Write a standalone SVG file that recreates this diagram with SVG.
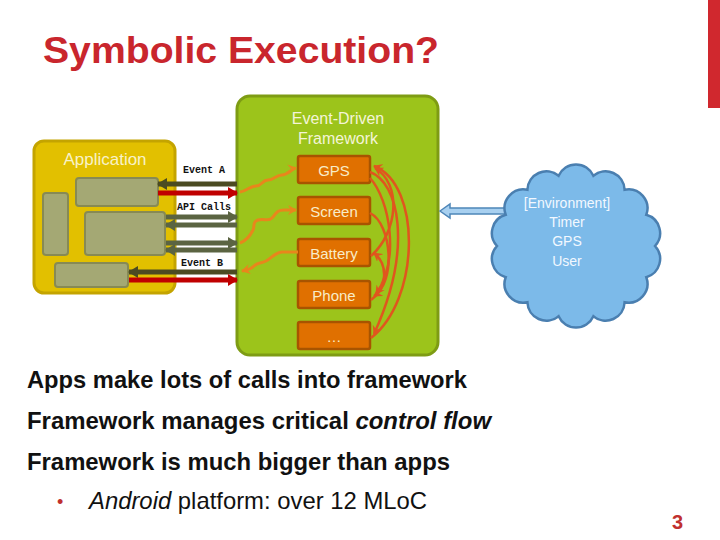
<svg xmlns="http://www.w3.org/2000/svg" width="720" height="540" viewBox="0 0 720 540">
  <style>
    .sans { font-family: "Liberation Sans", Arial, sans-serif; }
    .mono { font-family: "Liberation Mono", "Courier New", monospace; font-size: 10px; font-weight: bold; fill: #111; }
    .inner { fill: #a4a874; stroke: #878a54; stroke-width: 2; }
    .obox { fill: #e07000; stroke: #a85400; stroke-width: 2.5; }
    .otext { font-family: "Liberation Sans", Arial, sans-serif; font-size: 15px; fill: #f8ecc8; text-anchor: middle; }
    .wavy { fill: none; stroke: #e8861c; stroke-width: 3; stroke-linejoin: round; }
    .flow { fill: none; stroke: #e0561e; stroke-width: 2.5; }
    .body { font-family: "Liberation Sans", Arial, sans-serif; font-size: 24px; font-weight: bold; fill: #111; }
  </style>
  <defs>
    <marker id="hDark" markerUnits="userSpaceOnUse" markerWidth="10" markerHeight="12" refX="9" refY="6" orient="auto">
      <path d="M0,0 L10,6 L0,12 Z" fill="#4b4b22"/>
    </marker>
    <marker id="hRed" markerUnits="userSpaceOnUse" markerWidth="10" markerHeight="12" refX="9" refY="6" orient="auto">
      <path d="M0,0 L10,6 L0,12 Z" fill="#c00000"/>
    </marker>
    <marker id="hGray" markerUnits="userSpaceOnUse" markerWidth="10" markerHeight="12" refX="9" refY="6" orient="auto">
      <path d="M0,0 L10,6 L0,12 Z" fill="#5b6442"/>
    </marker>
    <marker id="hOr" markerUnits="userSpaceOnUse" markerWidth="9" markerHeight="10" refX="8" refY="5" orient="auto">
      <path d="M0,0 L9,5 L0,10 L3,5 Z" fill="#e8861c"/>
    </marker>
    <marker id="hFlow" markerUnits="userSpaceOnUse" markerWidth="9" markerHeight="10" refX="8" refY="5" orient="auto">
      <path d="M0,0 L9,5 L0,10 L3,5 Z" fill="#e0561e"/>
    </marker>
  </defs>

  <rect id="accent-bar" x="708" y="0" width="12" height="108" fill="#d0282e"/>

  <text id="title" class="sans" x="43" y="63" font-size="36" font-weight="bold" fill="#c9262d" textLength="396" lengthAdjust="spacingAndGlyphs">Symbolic Execution?</text>

  <g id="framework">
    <rect x="237" y="96" width="201" height="259" rx="13" fill="#9cc41b" stroke="#7e9c14" stroke-width="3"/>
    <text class="sans" x="338" y="124" font-size="16" fill="#f4f4d8" text-anchor="middle">Event-Driven</text>
    <text class="sans" x="338" y="144" font-size="16" fill="#f4f4d8" text-anchor="middle">Framework</text>
  </g>

  <g id="application">
    <rect x="34" y="141" width="141" height="152" rx="10" fill="#e2c000" stroke="#c4a400" stroke-width="3"/>
    <text class="sans" x="105" y="165" font-size="17" fill="#f8f2c8" text-anchor="middle">Application</text>
    <rect class="inner" x="76" y="178" width="82" height="28" rx="3"/>
    <rect class="inner" x="43" y="193" width="25" height="62" rx="3"/>
    <rect class="inner" x="85" y="212" width="80" height="43" rx="3"/>
    <rect class="inner" x="55" y="263" width="73" height="24" rx="3"/>
  </g>

  <g id="gps"><rect class="obox" x="298" y="156" width="72" height="27" rx="2"/><text class="otext" x="334" y="176">GPS</text></g>
  <g id="screen"><rect class="obox" x="298" y="197" width="72" height="27" rx="2"/><text class="otext" x="334" y="217">Screen</text></g>
  <g id="battery"><rect class="obox" x="298" y="239" width="72" height="27" rx="2"/><text class="otext" x="334" y="259">Battery</text></g>
  <g id="phone"><rect class="obox" x="298" y="281" width="72" height="27" rx="2"/><text class="otext" x="334" y="301">Phone</text></g>
  <g id="more"><rect class="obox" x="298" y="322" width="72" height="27" rx="2"/><text class="otext" x="334" y="342" font-size="11">…</text></g>

  <g id="connectors">
    <!-- app <-> framework -->
    <path d="M237,184 L158,184" stroke="#4b4b22" stroke-width="5" marker-end="url(#hDark)"/>
    <path d="M158,193 L237,193" stroke="#c00000" stroke-width="5" marker-end="url(#hRed)"/>
    <path d="M166,217 L237,217" stroke="#5b6442" stroke-width="5" marker-end="url(#hGray)"/>
    <path d="M237,225 L166,225" stroke="#5b6442" stroke-width="5" marker-end="url(#hGray)"/>
    <path d="M166,243 L237,243" stroke="#5b6442" stroke-width="5" marker-end="url(#hGray)"/>
    <path d="M237,250 L166,250" stroke="#5b6442" stroke-width="5" marker-end="url(#hGray)"/>
    <path d="M237,272 L129,272" stroke="#4b4b22" stroke-width="5" marker-end="url(#hDark)"/>
    <path d="M129,280 L237,280" stroke="#c00000" stroke-width="5" marker-end="url(#hRed)"/>
    <text class="mono" x="183" y="173">Event A</text>
    <text class="mono" x="177" y="210">API Calls</text>
    <text class="mono" x="181" y="266">Event B</text>

    <!-- wavy handlers -->
    <path class="wavy" d="M240,192 C247,191 250,186 256,186 C262,186 262,180 268,180 C274,180 276,175 282,175 C288,175 290,169 296,168" marker-end="url(#hOr)"/>
    <path class="wavy" d="M240,243 C248,240 251,234 253,230 C255,226 252,222 258,220 C264,218 268,222 272,218 C276,214 276,210 284,210 L296,210" marker-end="url(#hOr)"/>
    <path class="wavy" d="M298,252 L282,252 C274,253 272,258 266,261 C260,264 258,262 254,266 C250,270 246,270 242,271" marker-end="url(#hOr)"/>

    <!-- framework internal flows -->
    <path class="flow" d="M370,172 C398,182 414,246 374,334" marker-end="url(#hFlow)"/>
    <path class="flow" d="M371,338 C420,300 422,185 374,166" marker-end="url(#hFlow)"/>
    <path class="flow" d="M371,256 C398,232 402,184 375,168" marker-end="url(#hFlow)"/>
    <path class="flow" d="M370,213 C392,224 396,282 374,296" marker-end="url(#hFlow)"/>
    <path class="flow" d="M371,300 C388,288 388,264 374,253" marker-end="url(#hFlow)"/>
    <path class="flow" d="M370,178 C390,200 400,260 376,294" marker-end="url(#hFlow)"/>

    <!-- environment -> framework -->
    <polygon points="440,211 450,204 450,208 506,208 506,214 450,214 450,218" fill="#a8d0f0" stroke="#4e86b8" stroke-width="1.5"/>
  </g>

  <g id="environment">
    <path d="M497,246 A19,19 0 0 1 505.7,214.8 A19,19 0 0 1 527.4,189.7 A19,19 0 0 1 558.6,175.8 A19,19 0 0 1 593.4,175.8 A19,19 0 0 1 624.6,189.7 A19,19 0 0 1 646.3,214.8 A19,19 0 0 1 655,246 A19,19 0 0 1 646.3,277.2 A19,19 0 0 1 624.6,302.3 A19,19 0 0 1 593.4,316.2 A19,19 0 0 1 558.6,316.2 A19,19 0 0 1 527.4,302.3 A19,19 0 0 1 505.7,277.2 A19,19 0 0 1 497,246 Z" fill="#7cbae9" stroke="#4a7fb0" stroke-width="2.5"/>
    <text class="sans" x="567" y="208" font-size="14" fill="#f2f8ff" text-anchor="middle">[Environment]</text>
    <text class="sans" x="567" y="227" font-size="14" fill="#f2f8ff" text-anchor="middle">Timer</text>
    <text class="sans" x="567" y="246" font-size="14" fill="#f2f8ff" text-anchor="middle">GPS</text>
    <text class="sans" x="567" y="266" font-size="14" fill="#f2f8ff" text-anchor="middle">User</text>
  </g>

  <g id="bullets">
    <text class="body" x="27" y="388" textLength="440" lengthAdjust="spacingAndGlyphs">Apps make lots of calls into framework</text>
    <text class="body" x="27" y="429" textLength="464" lengthAdjust="spacingAndGlyphs">Framework manages critical <tspan font-style="italic">control flow</tspan></text>
    <text class="body" x="27" y="470" textLength="423" lengthAdjust="spacingAndGlyphs">Framework is much bigger than apps</text>
    <text class="sans" x="57" y="508" font-size="18" fill="#c0302e">•</text>
    <text class="sans" x="89" y="509" font-size="24" fill="#111" textLength="338" lengthAdjust="spacingAndGlyphs"><tspan font-style="italic">Android</tspan> platform: over 12 MLoC</text>
  </g>

  <text id="page" class="sans" x="672" y="529" font-size="20" font-weight="bold" fill="#c0302e">3</text>
</svg>
